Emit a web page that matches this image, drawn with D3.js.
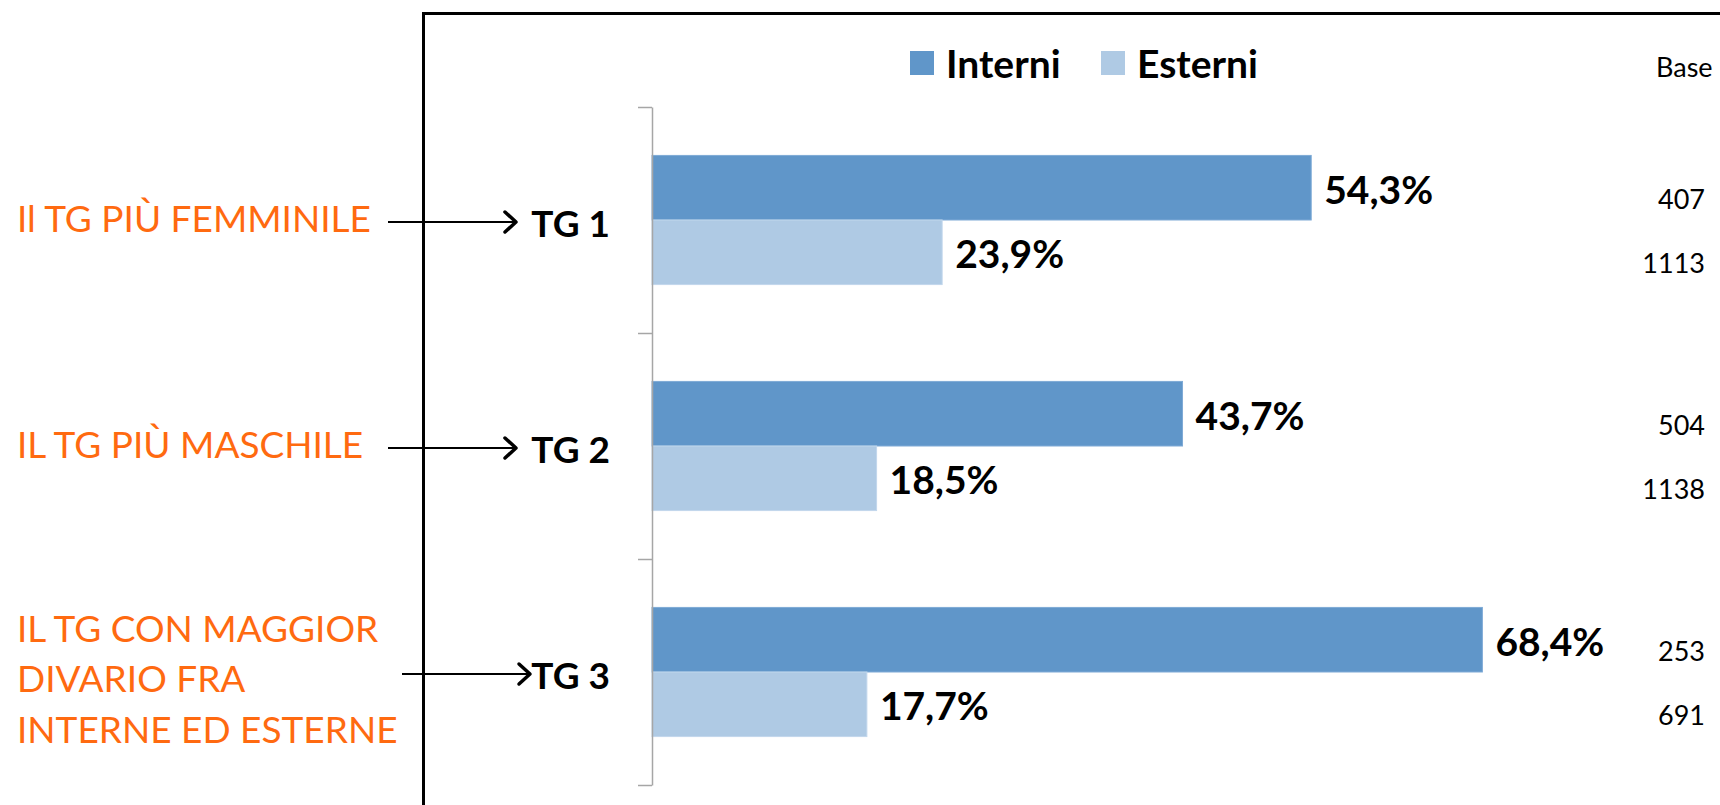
<!DOCTYPE html>
<html>
<head>
<meta charset="utf-8">
<script src="https://cdn.jsdelivr.net/npm/d3@7"></script>
<style>
  body { margin: 0; background: #fff; }
  svg { display: block; font-family: Lato, "Open Sans", sans-serif; }
</style>
</head>
<body>
<div id="chart"></div>
<script>
// Data
var categories = ["TG 1", "TG 2", "TG 3"];
var seriesNames = ["Interni", "Esterni"];
var interni = [54.3, 43.7, 68.4];
var esterni = [23.9, 18.5, 17.7];
var baseInterni = [407, 504, 253];
var baseEsterni = [1113, 1138, 691];
var notes = [
    ["Il TG PIÙ FEMMINILE"],
    ["IL TG PIÙ MASCHILE"],
    ["IL TG CON MAGGIOR", "DIVARIO FRA", "INTERNE ED ESTERNE"]
];

var svgWidth = 1720;
var svgHeight = 805;
var colors = { "Interni": "#6096c9", "Esterni": "#afcae4" };
var orange = "#ff6a10";

// build rows for the bars
var rows = [];
categories.forEach(function (c, i) {
    rows.push({ cat: c, series: "Interni", value: interni[i], base: baseInterni[i] });
    rows.push({ cat: c, series: "Esterni", value: esterni[i], base: baseEsterni[i] });
});

var svg = d3.select("#chart")
    .append("svg")
    .attr("width", svgWidth)
    .attr("height", svgHeight);

// Black frame, runs off the right and bottom edges
svg.append("path")
    .attr("d", "M423.5,805 V13.5 H1720")
    .attr("fill", "none")
    .attr("stroke", "#000")
    .attr("stroke-width", 3);

// Scales
var xScale = d3.scaleLinear().domain([0, 100]).range([652, 652 + 1214]);
var yScale = d3.scaleBand().domain(categories).range([107, 785]);
var ySub = d3.scaleBand().domain(seriesNames)
    .range([0, yScale.bandwidth()])
    .paddingInner(0)
    .paddingOuter(0.75);
var yEdge = d3.scaleLinear().domain([0, categories.length]).range([107, 785]);

// Bars
svg.append("g")
    .selectAll("rect")
    .data(rows)
    .enter()
    .append("rect")
    .attr("x", xScale(0))
    .attr("y", d => yScale(d.cat) + ySub(d.series))
    .attr("width", d => xScale(d.value) - xScale(0))
    .attr("height", ySub.bandwidth())
    .attr("fill", d => colors[d.series])
    .attr("stroke", d => d.series == "Interni" ? "#7eaad6" : "#c2d7ec")
    .attr("stroke-width", 1);

// Category axis, ticks on band edges
var yAxis = d3.axisLeft(yEdge)
    .tickValues(d3.range(categories.length + 1))
    .tickSize(14)
    .tickSizeOuter(0)
    .tickFormat("");
var axisG = svg.append("g")
    .attr("transform", `translate(${xScale(0)} 0)`)
    .call(yAxis);
axisG.selectAll("path, line").attr("stroke", "#a6a6a6").attr("stroke-width", 1.5);

// Value labels
svg.append("g")
    .selectAll("text")
    .data(rows)
    .enter()
    .append("text")
    .attr("x", d => xScale(d.value) + 13)
    .attr("y", d => yScale(d.cat) + ySub(d.series) + ySub.bandwidth() / 2 + 16)
    .attr("font-size", 39)
    .attr("font-weight", "bold")
    .attr("fill", "#000")
    .text(d => d3.format(".1f")(d.value).replace(".", ",") + "%");

// Base column
svg.append("text")
    .attr("x", 1656)
    .attr("y", 77)
    .attr("font-size", 27)
    .attr("fill", "#000")
    .text("Base");

svg.append("g")
    .selectAll("text")
    .data(rows)
    .enter()
    .append("text")
    .attr("x", 1705)
    .attr("y", d => yScale(d.cat) + ySub(d.series) + ySub.bandwidth() / 2 + 21)
    .attr("text-anchor", "end")
    .attr("font-size", 27)
    .attr("fill", "#000")
    .text(d => d.base);

// Category labels
svg.append("g")
    .selectAll("text")
    .data(categories)
    .enter()
    .append("text")
    .attr("x", 610)
    .attr("y", d => yScale(d) + yScale.bandwidth() / 2 + 17)
    .attr("text-anchor", "end")
    .attr("font-size", 37)
    .attr("font-weight", "bold")
    .attr("fill", "#000")
    .text(d => d);

// Arrows from the notes to the categories
var arrowShift = [0, 0, 14];
var arrows = svg.append("g")
    .selectAll("g")
    .data(categories)
    .enter()
    .append("g")
    .attr("transform", (d, i) => `translate(${516 + arrowShift[i]} ${yScale(d) + yScale.bandwidth() / 2 + 2})`);
arrows.append("line")
    .attr("x1", -128).attr("x2", -2)
    .attr("y1", 0).attr("y2", 0)
    .attr("stroke", "#000")
    .attr("stroke-width", 2.2);
arrows.append("path")
    .attr("d", "M-11,-10 L0,0 L-11,10")
    .attr("fill", "none")
    .attr("stroke", "#000")
    .attr("stroke-width", 3.5)
    .attr("stroke-linecap", "round")
    .attr("stroke-linejoin", "round");

// Orange notes
categories.forEach(function (c, i) {
    var lines = notes[i];
    var n = lines.length;
    var mid = yScale(c) + yScale.bandwidth() / 2;
    svg.append("text")
        .attr("font-size", 37)
        .attr("fill", orange)
        .selectAll("tspan")
        .data(lines)
        .enter()
        .append("tspan")
        .attr("x", 17)
        .attr("y", (d, j) => mid + 12 + (j - (n - 1) / 2) * 50.5 + (n - 1) * 4)
        .text(d => d);
});

// Legend
var legend = svg.append("g")
    .selectAll("g")
    .data(seriesNames)
    .enter()
    .append("g")
    .attr("transform", (d, i) => `translate(${[910, 1101][i]} 51)`);
legend.append("rect")
    .attr("width", 24)
    .attr("height", 24)
    .attr("fill", d => colors[d]);
legend.append("text")
    .attr("x", 36)
    .attr("y", 27)
    .attr("font-size", 39)
    .attr("font-weight", "bold")
    .attr("fill", "#000")
    .text(d => d);
</script>
</body>
</html>
